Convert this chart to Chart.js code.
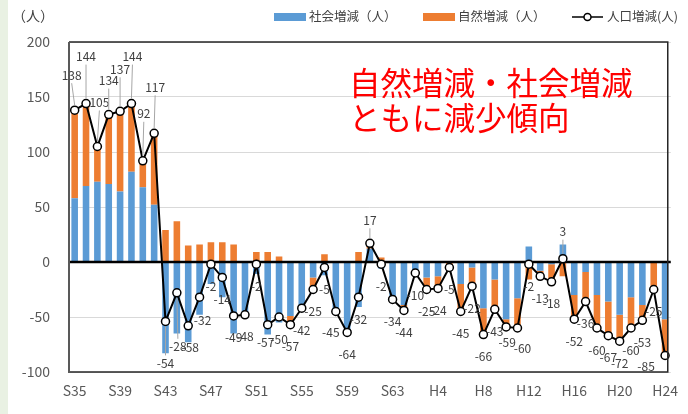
<!DOCTYPE html>
<html>
<head>
<meta charset="utf-8">
<script src="https://cdn.jsdelivr.net/npm/chart.js@4"></script>
<style>
html, body { margin: 0; padding: 0; background: #fff; }
#wrap { position: relative; width: 688px; height: 414px; }
#band { position: absolute; left: 0; top: 0; width: 8px; height: 414px; background: #e9f1e3; }
#note { position: absolute; left: 349px; top: 64px; color: #ff0000; font-family: "Noto Sans CJK JP", sans-serif; font-size: 31.5px; line-height: 35px; white-space: nowrap; }
</style>
</head>
<body>
<div id="wrap">
  <canvas id="popChart" width="688" height="414"></canvas>
  <div id="band"></div>
  <div id="note">自然増減・社会増減<br>ともに減少傾向</div>
</div>
<script>
// 年次（S35=1960 ～ H24=2012）
var years = ['S35','S36','S37','S38','S39','S40','S41','S42','S43','S44','S45','S46','S47','S48','S49',
  'S50','S51','S52','S53','S54','S55','S56','S57','S58','S59','S60','S61','S62','S63',
  'H1','H2','H3','H4','H5','H6','H7','H8','H9','H10','H11','H12','H13','H14','H15','H16',
  'H17','H18','H19','H20','H21','H22','H23','H24'];

// 社会増減（人）
var socialChange = [58, 69, 73, 71, 64, 82, 68, 52,
  -83, -65, -73, -48, -20, -32, -65, -49,
  -11, -66, -55, -49, -43, -14, -12, -46,
  -64, -41, 12, -6, -35,
  -39, -8, -14, -13, 1, -20, -5, -42,
  -16, -52, -33, 14, -8, -2, 16, -30,
  -9, -30, -36, -48, -32, -39, 1, -52];

// 自然増減（人）
var naturalChange = [80, 75, 32, 63, 73, 62, 24, 65,
  29, 37, 15, 16, 18, 18, 16, 1,
  9, 9, 5, -8, 1, -11, 7, 1,
  0, 9, 5, 4, 1,
  -5, -2, -11, -11, -6, -25, -17, -24,
  -27, -7, -27, -16, -5, -16, -13, -22,
  -27, -30, -31, -24, -28, -14, -26, -33];

// 人口増減（人）
var totalChange = [138, 144, 105, 134, 137, 144, 92, 117,
  -54, -28, -58, -32, -2, -14, -49, -48,
  -2, -57, -50, -57, -42, -25, -5, -45,
  -64, -32, 17, -2, -34,
  -44, -10, -25, -24, -5, -45, -22, -66,
  -43, -59, -60, -2, -13, -18, 3, -52,
  -36, -60, -67, -72, -60, -53, -25, -85];

var FONT = '"Noto Sans CJK JP", "Noto Sans", sans-serif';

// label nudges [dx, dy, leader line]
var labelNudge = {
  0: [-3, -35, 1], 1: [0, -47, 1], 2: [2, -44, 1], 3: [0, -34, 1],
  4: [0, -42, 1], 5: [1, -47, 1], 6: [1, -47, 1], 7: [1, -46, 1],
  8: [0, 42, 1], 9: [1, 54, 1], 10: [2, 22, 0], 11: [3, 23, 0],
  17: [-2, 18, 0], 23: [-5, 21, 0], 26: [0, -23, 1],
  38: [1, 16, 0], 39: [5, 20, 0], 43: [0, -27, 1], 52: [-19, 11, 0]
};

var valueLabels = {
  id: 'valueLabels',
  beforeDatasetDraw: function(chart, args) {
    if (args.meta.type !== 'line') return;
    var c = chart.ctx, a = chart.chartArea;
    var y0 = chart.scales.y.getPixelForValue(0);
    c.save();
    c.strokeStyle = '#000';
    c.lineWidth = 2.5;
    c.beginPath();
    c.moveTo(a.left, y0);
    c.lineTo(a.right, y0);
    c.stroke();
    c.restore();
  },
  afterDatasetsDraw: function(chart) {
    var c = chart.ctx;
    var meta = chart.getDatasetMeta(2);
    c.save();
    c.font = '12px ' + FONT;
    c.textAlign = 'center';
    c.textBaseline = 'middle';
    meta.data.forEach(function(pt, i) {
      var v = totalChange[i];
      var n = labelNudge[i] || [0, v < 0 ? 22 : -23, 0];
      var lx = pt.x + n[0], ly = pt.y + n[1];
      if (n[2]) {
        c.strokeStyle = '#a6a6a6';
        c.lineWidth = 1;
        c.beginPath();
        if (n[1] < 0) { c.moveTo(lx, ly + 8); c.lineTo(pt.x, pt.y - 5); }
        else { c.moveTo(lx, ly - 8); c.lineTo(pt.x, pt.y + 5); }
        c.stroke();
      }
      c.fillStyle = '#404040';
      c.fillText(String(v), lx, ly);
    });
    c.restore();
  },
  afterDraw: function(chart) {
    var c = chart.ctx, a = chart.chartArea;
    c.save();
    // plot frame
    c.strokeStyle = '#262626';
    c.lineWidth = 1.5;
    c.beginPath();
    c.moveTo(a.left, a.top); c.lineTo(a.right - 3, a.top); c.lineTo(a.right - 3, a.bottom); c.lineTo(a.left, a.bottom);
    c.stroke();
    c.strokeStyle = '#595959';
    c.lineWidth = 2;
    c.beginPath();
    c.moveTo(a.left, a.top); c.lineTo(a.left, a.bottom + 1);
    c.stroke();

    // unit
    c.fillStyle = '#404040';
    c.font = '14px ' + FONT;
    c.textBaseline = 'middle';
    c.textAlign = 'center';
    c.fillText('（人）', 33, 16);

    // legend
    var ds = chart.data.datasets;
    c.font = '12.5px ' + FONT;
    c.textAlign = 'left';
    c.fillStyle = ds[0].backgroundColor;
    c.fillRect(274, 13, 32, 8);
    c.fillStyle = '#404040';
    c.fillText(ds[0].label, 309, 16);
    c.fillStyle = ds[1].backgroundColor;
    c.fillRect(423, 13, 32, 8);
    c.fillStyle = '#404040';
    c.fillText(ds[1].label, 458, 16);
    c.strokeStyle = '#000';
    c.lineWidth = 1.5;
    c.beginPath(); c.moveTo(572, 17); c.lineTo(603, 17); c.stroke();
    c.fillStyle = '#fff';
    c.beginPath(); c.arc(587.5, 17, 3.5, 0, Math.PI * 2); c.fill(); c.stroke();
    c.fillStyle = '#404040';
    c.fillText(ds[2].label, 607, 16);
    c.restore();
  }
};

var ctx = document.getElementById('popChart');
var popChart = new Chart(ctx, {
  type: 'bar',
  data: {
    labels: years,
    datasets: [{
      type: 'bar',
      label: '社会増減（人）',
      data: socialChange,
      backgroundColor: '#5B9BD5',
      stack: 'bars',
      order: 1,
      barPercentage: 0.58,
      categoryPercentage: 1
    }, {
      type: 'bar',
      label: '自然増減（人）',
      data: naturalChange,
      backgroundColor: '#ED7D31',
      stack: 'bars',
      order: 1,
      barPercentage: 0.58,
      categoryPercentage: 1
    }, {
      type: 'line',
      label: '人口増減(人)',
      data: totalChange,
      stack: 'line',
      order: 0,
      borderColor: '#000',
      borderWidth: 2,
      tension: 0,
      pointRadius: 4,
      pointBorderWidth: 1.5,
      pointBackgroundColor: '#fff',
      pointBorderColor: '#000'
    }]
  },
  options: {
    responsive: false,
    animation: false,
    layout: { padding: { top: 42, right: 3, left: 0, bottom: 0 } },
    plugins: {
      legend: { display: false },
      tooltip: { enabled: false }
    },
    scales: {
      x: {
        stacked: true,
        grid: { display: false, drawTicks: false },
        border: { display: false },
        ticks: {
          autoSkip: false,
          maxRotation: 0,
          padding: 10,
          color: '#595959',
          font: { size: 14, family: FONT },
          callback: function(val, idx) { return idx % 4 === 0 ? years[idx] : ''; }
        },
        afterFit: function(s) { s.height = 42; }
      },
      y: {
        stacked: true,
        min: -100,
        max: 200,
        ticks: { stepSize: 50, padding: 19, color: '#595959', font: { size: 14, family: FONT } },
        grid: { color: '#d9d9d9', drawTicks: false },
        border: { display: false },
        afterFit: function(s) { s.width = 69; }
      }
    }
  },
  plugins: [valueLabels]
});
</script>
</body>
</html>
